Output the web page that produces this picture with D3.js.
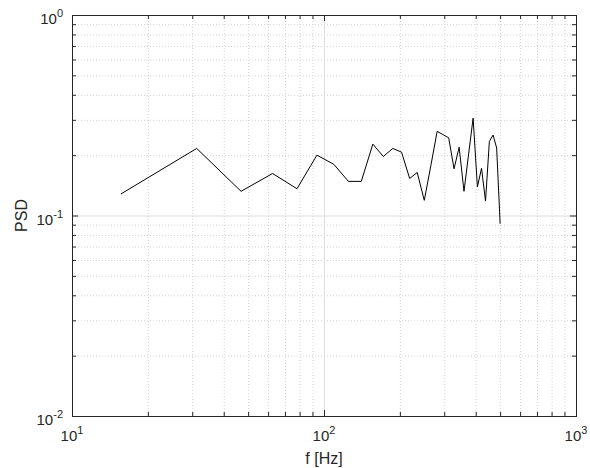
<!DOCTYPE html>
<html>
<head>
  <meta charset="utf-8">
  <title>PSD vs frequency</title>
  <script src="https://d3js.org/d3.v7.min.js"></script>
  <style>
    body { margin: 0; background: #fff; }
    svg { display: block; font-family: "Liberation Sans", Arial, sans-serif; }
    .tick-label { fill: #262626; font-size: 15px; }
    .axis-label { fill: #262626; font-size: 16px; }
  </style>
</head>
<body>
<div id="chart"></div>
<script>
  // frequency bins (Hz) and PSD values
  const freqs = [15.625, 31.25, 46.875, 62.5, 78.125, 93.75, 109.375, 125,
    140.625, 156.25, 171.875, 187.5, 203.125, 218.75, 234.375, 250,
    265.625, 281.25, 296.875, 312.5, 328.125, 343.75, 359.375, 375,
    390.625, 406.25, 421.875, 437.5, 453.125, 468.75, 484.375, 500];
  const psd = [0.128, 0.216, 0.132, 0.162, 0.136, 0.200, 0.180, 0.148,
    0.148, 0.227, 0.197, 0.216, 0.207, 0.153, 0.164, 0.119,
    0.178, 0.263, 0.253, 0.244, 0.171, 0.219, 0.132, 0.203,
    0.306, 0.139, 0.172, 0.118, 0.234, 0.252, 0.217, 0.091];

  // axis ticks
  const xMajor = [10, 100, 1000];
  const xExp = ["1", "2", "3"];
  const yMajor = [0.01, 0.1, 1];
  const yExp = ["-2", "-1", "0"];
  const xMinor = [20, 30, 40, 50, 60, 70, 80, 90, 200, 300, 400, 500, 600, 700, 800, 900];
  const yMinor = [0.02, 0.03, 0.04, 0.05, 0.06, 0.07, 0.08, 0.09, 0.2, 0.3, 0.4, 0.5, 0.6, 0.7, 0.8, 0.9];

  const W = 590, H = 468;
  const margin = {top: 15, right: 14, bottom: 52, left: 72};
  const width = W - margin.left - margin.right,
        height = H - margin.top - margin.bottom;

  const x = d3.scaleLog().domain([10, 1000]).range([0, width]);
  const y = d3.scaleLog().domain([0.01, 1]).range([height, 0]);

  const svg = d3.select("#chart").append("svg")
    .attr("width", W)
    .attr("height", H);
  const g = svg.append("g")
    .attr("transform", `translate(${margin.left},${margin.top})`);

  // minor grid (dotted)
  g.append("g")
    .call(d3.axisBottom(x).tickValues(xMinor).tickSize(height).tickFormat(""))
    .call(a => a.select(".domain").remove())
    .selectAll("line")
    .attr("stroke", "#d4d4d4")
    .attr("stroke-dasharray", "1,2");
  g.append("g")
    .call(d3.axisLeft(y).tickValues(yMinor).tickSize(-width).tickFormat(""))
    .call(a => a.select(".domain").remove())
    .selectAll("line")
    .attr("stroke", "#d4d4d4")
    .attr("stroke-dasharray", "1,2");

  // major grid
  g.append("g")
    .call(d3.axisBottom(x).tickValues(xMajor).tickSize(height).tickFormat(""))
    .call(a => a.select(".domain").remove())
    .selectAll("line").attr("stroke", "#dedede");
  g.append("g")
    .call(d3.axisLeft(y).tickValues(yMajor).tickSize(-width).tickFormat(""))
    .call(a => a.select(".domain").remove())
    .selectAll("line").attr("stroke", "#dedede");

  // the data line
  const line = d3.line()
    .x((d, i) => x(freqs[i]))
    .y(d => y(d));
  g.append("path")
    .datum(psd)
    .attr("fill", "none")
    .attr("stroke", "#000")
    .attr("stroke-width", 1)
    .attr("d", line);

  // ticks on all four sides, pointing inward
  function ticks(axisFn, scale, vals, len, transform) {
    g.append("g")
      .attr("transform", transform)
      .call(axisFn(scale).tickValues(vals).tickSize(len).tickFormat(""))
      .call(a => a.select(".domain").remove())
      .selectAll("line").attr("stroke", "#262626");
  }
  ticks(d3.axisBottom, x, xMajor, -6, `translate(0,${height})`);
  ticks(d3.axisBottom, x, xMinor, -4, `translate(0,${height})`);
  ticks(d3.axisTop, x, xMajor, -6, "translate(0,0)");
  ticks(d3.axisTop, x, xMinor, -4, "translate(0,0)");
  ticks(d3.axisLeft, y, yMajor, -6, "translate(0,0)");
  ticks(d3.axisLeft, y, yMinor, -4, "translate(0,0)");
  ticks(d3.axisRight, y, yMajor, -6, `translate(${width},0)`);
  ticks(d3.axisRight, y, yMinor, -4, `translate(${width},0)`);

  // box
  g.append("rect")
    .attr("x", 0).attr("y", 0)
    .attr("width", width).attr("height", height)
    .attr("fill", "none")
    .attr("stroke", "#262626")
    .attr("stroke-width", 1)
    .attr("shape-rendering", "crispEdges");

  // tick labels 10^n
  xMajor.forEach((v, i) => {
    const t = g.append("text")
      .attr("class", "tick-label")
      .attr("x", x(v))
      .attr("y", height + 25)
      .attr("text-anchor", "middle");
    t.append("tspan").text("10");
    t.append("tspan").attr("dy", -7).style("font-size", "11px").text(xExp[i]);
  });
  yMajor.forEach((v, i) => {
    const t = g.append("text")
      .attr("class", "tick-label")
      .attr("x", -9)
      .attr("y", y(v) + 9)
      .attr("text-anchor", "end");
    t.append("tspan").text("10");
    t.append("tspan").attr("dy", -7).style("font-size", "11px").text(yExp[i]);
  });

  // axis labels
  g.append("text")
    .attr("class", "axis-label")
    .attr("x", width / 2)
    .attr("y", height + 48)
    .attr("text-anchor", "middle")
    .text("f [Hz]");
  g.append("text")
    .attr("class", "axis-label")
    .attr("transform", `translate(${27 - margin.left},${height / 2}) rotate(-90)`)
    .attr("text-anchor", "middle")
    .text("PSD");
</script>
</body>
</html>
